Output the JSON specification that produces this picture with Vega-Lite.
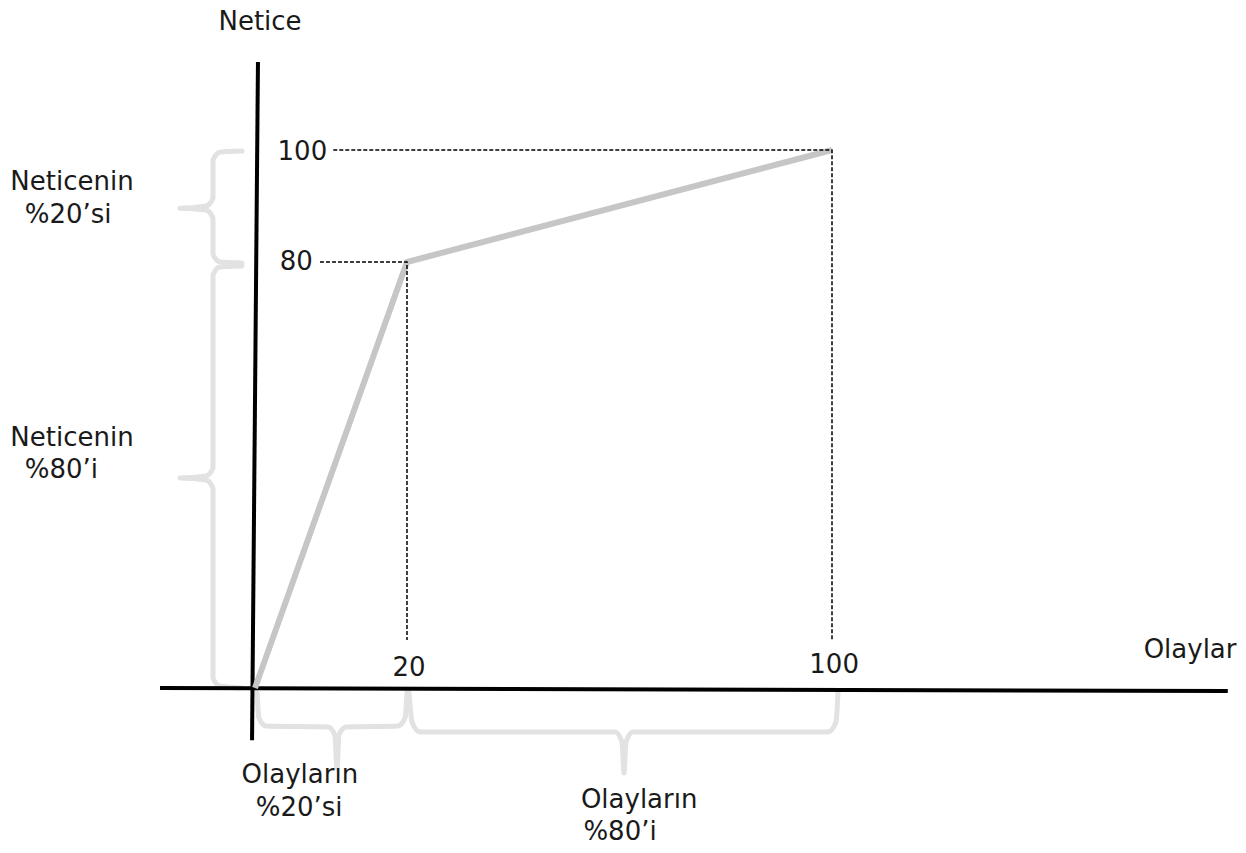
{
  "$schema": "https://vega.github.io/schema/vega-lite/v6.json",
  "width": 1246,
  "height": 853,
  "autosize": {"type": "none"},
  "padding": 0,
  "background": "white",
  "config": {"view": {"stroke": null}},
  "datasets": {
    "lines": [
      {"g": "vaxis", "k": "axis", "o": 1, "x": 0.39, "y": 115.7},
      {"g": "vaxis", "k": "axis", "o": 2, "x": -0.39, "y": -9.8},
      {"g": "haxis", "k": "axis", "o": 1, "x": -12.5, "y": 0},
      {"g": "haxis", "k": "axis", "o": 2, "x": 174.5, "y": -0.56},

      {"g": "curve", "k": "curve", "o": 1, "x": 0, "y": 0},
      {"g": "curve", "k": "curve", "o": 2, "x": 20, "y": 80},
      {"g": "curve", "k": "curve", "o": 3, "x": 100, "y": 100},

      {"g": "d80", "k": "dash", "o": 1, "x": 8.55, "y": 80},
      {"g": "d80", "k": "dash", "o": 2, "x": 20, "y": 80},
      {"g": "d80", "k": "dash", "o": 3, "x": 20, "y": 9.0},
      {"g": "d100", "k": "dash", "o": 1, "x": 10.3, "y": 100},
      {"g": "d100", "k": "dash", "o": 2, "x": 100, "y": 100},
      {"g": "d100", "k": "dash", "o": 3, "x": 100, "y": 9.0},

      {"g": "b1", "k": "brace", "o": 1, "x": -1.71, "y": 99.8},
      {"g": "b1", "k": "brace", "o": 2, "x": -4.61, "y": 99.6},
      {"g": "b1", "k": "brace", "o": 3, "x": -5.53, "y": 98.2},
      {"g": "b1", "k": "brace", "o": 4, "x": -5.53, "y": 91.4},
      {"g": "b1", "k": "brace", "o": 5, "x": -6.45, "y": 90.0},
      {"g": "b1", "k": "brace", "o": 6, "x": -9.87, "y": 89.6},
      {"g": "b1", "k": "brace", "o": 7, "x": -6.45, "y": 89.3},
      {"g": "b1", "k": "brace", "o": 8, "x": -5.53, "y": 87.9},
      {"g": "b1", "k": "brace", "o": 9, "x": -5.53, "y": 81.4},
      {"g": "b1", "k": "brace", "o": 10, "x": -4.61, "y": 80.0},
      {"g": "b1", "k": "brace", "o": 11, "x": -1.71, "y": 79.8},

      {"g": "b2", "k": "brace", "o": 1, "x": -1.71, "y": 79.25},
      {"g": "b2", "k": "brace", "o": 2, "x": -4.61, "y": 79.06},
      {"g": "b2", "k": "brace", "o": 3, "x": -5.53, "y": 77.56},
      {"g": "b2", "k": "brace", "o": 4, "x": -5.53, "y": 41.31},
      {"g": "b2", "k": "brace", "o": 5, "x": -6.45, "y": 39.81},
      {"g": "b2", "k": "brace", "o": 6, "x": -9.87, "y": 39.44},
      {"g": "b2", "k": "brace", "o": 7, "x": -6.45, "y": 39.06},
      {"g": "b2", "k": "brace", "o": 8, "x": -5.53, "y": 37.56},
      {"g": "b2", "k": "brace", "o": 9, "x": -5.53, "y": 1.88},
      {"g": "b2", "k": "brace", "o": 10, "x": -4.61, "y": 0.38},
      {"g": "b2", "k": "brace", "o": 11, "x": -1.71, "y": 0},

      {"g": "b3", "k": "brace", "o": 1, "x": 0.26, "y": -0.75},
      {"g": "b3", "k": "brace", "o": 2, "x": 0.53, "y": -5.63},
      {"g": "b3", "k": "brace", "o": 3, "x": 1.45, "y": -7.14},
      {"g": "b3", "k": "brace", "o": 4, "x": 9.6, "y": -7.32},
      {"g": "b3", "k": "brace", "o": 5, "x": 10.5, "y": -8.83},
      {"g": "b3", "k": "brace", "o": 6, "x": 10.8, "y": -15.02},
      {"g": "b3", "k": "brace", "o": 7, "x": 11.05, "y": -8.83},
      {"g": "b3", "k": "brace", "o": 8, "x": 11.97, "y": -7.32},
      {"g": "b3", "k": "brace", "o": 9, "x": 18.8, "y": -7.14},
      {"g": "b3", "k": "brace", "o": 10, "x": 19.74, "y": -5.63},
      {"g": "b3", "k": "brace", "o": 11, "x": 20, "y": -0.75},

      {"g": "b4", "k": "brace", "o": 1, "x": 20.38, "y": -0.75},
      {"g": "b4", "k": "brace", "o": 2, "x": 20.94, "y": -6.38},
      {"g": "b4", "k": "brace", "o": 3, "x": 22.45, "y": -8.26},
      {"g": "b4", "k": "brace", "o": 4, "x": 59.15, "y": -8.26},
      {"g": "b4", "k": "brace", "o": 5, "x": 60.47, "y": -10.14},
      {"g": "b4", "k": "brace", "o": 6, "x": 60.85, "y": -15.96},
      {"g": "b4", "k": "brace", "o": 7, "x": 61.22, "y": -10.14},
      {"g": "b4", "k": "brace", "o": 8, "x": 62.54, "y": -8.26},
      {"g": "b4", "k": "brace", "o": 9, "x": 99.25, "y": -8.26},
      {"g": "b4", "k": "brace", "o": 10, "x": 100.75, "y": -6.38},
      {"g": "b4", "k": "brace", "o": 11, "x": 101.13, "y": -0.75}
    ],
    "labels": [
      {"t": "Netice", "a": "center", "x": 0.66, "y": 122.9},
      {"t": "Olaylar", "a": "center", "x": 167.4, "y": 7.1},
      {"t": "100", "a": "right", "x": 9.5, "y": 99.6},
      {"t": "80", "a": "right", "x": 7.6, "y": 80},
      {"t": "20", "a": "center", "x": 20.4, "y": 3.8},
      {"t": "100", "a": "center", "x": 100.4, "y": 4.3},
      {"t": "Neticenin", "a": "left", "x": -32.2, "y": 94.3},
      {"t": "%20’si", "a": "left", "x": -30.3, "y": 88.4},
      {"t": "Neticenin", "a": "left", "x": -32.2, "y": 46.9},
      {"t": "%80’i", "a": "left", "x": -30.3, "y": 40.9},
      {"t": "Olayların", "a": "center", "x": 5.9, "y": -16.3},
      {"t": "%20’si", "a": "center", "x": 5.8, "y": -22.5},
      {"t": "Olayların", "a": "center", "x": 63.7, "y": -21.0},
      {"t": "%80’i", "a": "center", "x": 60.1, "y": -27.0}
    ]
  },
  "layer": [
    {
      "data": {"name": "lines"},
      "transform": [{"filter": "datum.k === 'brace'"}],
      "mark": {"type": "line", "color": "#e2e2e2", "strokeWidth": 5, "strokeCap": "round", "strokeJoin": "round", "interpolate": "monotone"},
      "encoding": {
        "x": {"field": "x", "type": "quantitative", "axis": null, "scale": {"type": "linear", "domain": [0, 20, 100], "range": [255, 407, 832], "zero": false, "nice": false}},
        "y": {"field": "y", "type": "quantitative", "axis": null, "scale": {"type": "linear", "domain": [0, 80, 100], "range": [688, 262, 150], "zero": false, "nice": false}},
        "detail": {"field": "g"},
        "order": {"field": "o", "type": "quantitative"}
      }
    },
    {
      "data": {"name": "lines"},
      "transform": [{"filter": "datum.k === 'axis'"}],
      "mark": {"type": "line", "color": "#000000", "strokeWidth": 4},
      "encoding": {
        "x": {"field": "x", "type": "quantitative"},
        "y": {"field": "y", "type": "quantitative"},
        "detail": {"field": "g"},
        "order": {"field": "o", "type": "quantitative"}
      }
    },
    {
      "data": {"name": "lines"},
      "transform": [{"filter": "datum.k === 'curve'"}],
      "mark": {"type": "line", "color": "#c6c6c6", "strokeWidth": 6, "strokeJoin": "miter"},
      "encoding": {
        "x": {"field": "x", "type": "quantitative"},
        "y": {"field": "y", "type": "quantitative"},
        "detail": {"field": "g"},
        "order": {"field": "o", "type": "quantitative"}
      }
    },
    {
      "data": {"name": "lines"},
      "transform": [{"filter": "datum.k === 'dash'"}],
      "mark": {"type": "line", "color": "#000000", "strokeWidth": 1.5, "strokeDash": [4, 2]},
      "encoding": {
        "x": {"field": "x", "type": "quantitative"},
        "y": {"field": "y", "type": "quantitative"},
        "detail": {"field": "g"},
        "order": {"field": "o", "type": "quantitative"}
      }
    },
    {
      "data": {"name": "labels"},
      "transform": [{"filter": "datum.a === 'center'"}],
      "mark": {"type": "text", "align": "center", "baseline": "middle", "font": "DejaVu Sans", "fontSize": 26, "color": "#1a1a1a"},
      "encoding": {
        "x": {"field": "x", "type": "quantitative"},
        "y": {"field": "y", "type": "quantitative"},
        "text": {"field": "t"}
      }
    },
    {
      "data": {"name": "labels"},
      "transform": [{"filter": "datum.a === 'left'"}],
      "mark": {"type": "text", "align": "left", "baseline": "middle", "font": "DejaVu Sans", "fontSize": 26, "color": "#1a1a1a"},
      "encoding": {
        "x": {"field": "x", "type": "quantitative"},
        "y": {"field": "y", "type": "quantitative"},
        "text": {"field": "t"}
      }
    },
    {
      "data": {"name": "labels"},
      "transform": [{"filter": "datum.a === 'right'"}],
      "mark": {"type": "text", "align": "right", "baseline": "middle", "font": "DejaVu Sans", "fontSize": 26, "color": "#1a1a1a"},
      "encoding": {
        "x": {"field": "x", "type": "quantitative"},
        "y": {"field": "y", "type": "quantitative"},
        "text": {"field": "t"}
      }
    }
  ]
}
